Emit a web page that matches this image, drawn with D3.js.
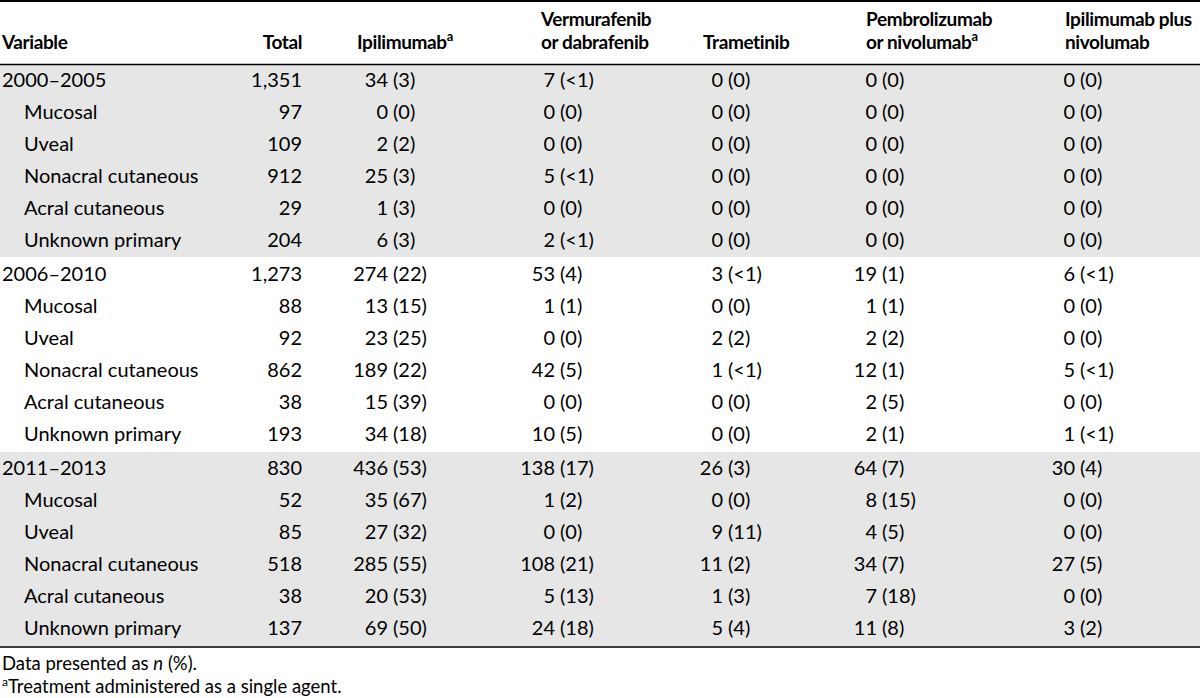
<!DOCTYPE html>
<html>
<head>
<meta charset="utf-8">
<script src="https://cdn.jsdelivr.net/npm/d3@7/dist/d3.min.js"></script>
<style>
  html, body { margin: 0; padding: 0; background: #fff; }
  svg { display: block; }
  text { font-family: Lato, "Open Sans", sans-serif; fill: #000; }
</style>
</head>
<body>
<svg id="chart" width="1200" height="698"></svg>
<script>
// ---------- data ----------
const periods = ["2000–2005", "2006–2010", "2011–2013"];
const subtypes = ["Mucosal", "Uveal", "Nonacral cutaneous", "Acral cutaneous", "Unknown primary"];
const totals = [1351, 97, 109, 912, 29, 204, 1273, 88, 92, 862, 38, 193, 830, 52, 85, 518, 38, 137];

const ipiN = [34, 0, 2, 25, 1, 6, 274, 13, 23, 189, 15, 34, 436, 35, 27, 285, 20, 69];
const ipiP = ["3", "0", "2", "3", "3", "3", "22", "15", "25", "22", "39", "18", "53", "67", "32", "55", "53", "50"];
const vemN = [7, 0, 0, 5, 0, 2, 53, 1, 0, 42, 0, 10, 138, 1, 0, 108, 5, 24];
const vemP = ["<1", "0", "0", "<1", "0", "<1", "4", "1", "0", "5", "0", "5", "17", "2", "0", "21", "13", "18"];
const traN = [0, 0, 0, 0, 0, 0, 3, 0, 2, 1, 0, 0, 26, 0, 9, 11, 1, 5];
const traP = ["0", "0", "0", "0", "0", "0", "<1", "0", "2", "<1", "0", "0", "3", "0", "11", "2", "3", "4"];
const pemN = [0, 0, 0, 0, 0, 0, 19, 1, 2, 12, 2, 2, 64, 8, 4, 34, 7, 11];
const pemP = ["0", "0", "0", "0", "0", "0", "1", "1", "2", "1", "5", "1", "7", "15", "5", "7", "18", "8"];
const ipnN = [0, 0, 0, 0, 0, 0, 6, 0, 0, 5, 0, 1, 30, 0, 0, 27, 0, 3];
const ipnP = ["0", "0", "0", "0", "0", "0", "<1", "0", "0", "<1", "0", "<1", "4", "0", "0", "5", "0", "2"];

const headers = [
  { lines: ["Variable"], sup: false },
  { lines: ["Total"], sup: false },
  { lines: ["Ipilimumab"], sup: true },
  { lines: ["Vermurafenib", "or dabrafenib"], sup: false },
  { lines: ["Trametinib"], sup: false },
  { lines: ["Pembrolizumab", "or nivolumab"], sup: true },
  { lines: ["Ipilimumab plus", "nivolumab"], sup: false }
];
const footnotes = ["Data presented as ", "Treatment administered as a single agent."];

// ---------- layout ----------
const W = 1200, H = 698;
const svg = d3.select("#chart");
const FS = 20;

// rows
const rows = [];
periods.forEach((p, g) => {
  rows.push({ label: p, indent: false, g, i: 0 });
  subtypes.forEach((s, k) => rows.push({ label: s, indent: true, g, i: k + 1 }));
});
rows.forEach((r, idx) => { r.idx = idx; });

const rowStep = 32, groupGap = 2;
const y = d3.scaleLinear().domain([0, 1]).range([80, 80 + rowStep]);
const rowY = r => y(r.idx) + r.g * groupGap;

// column anchors (right edge of count)
const cols = [
  { n: ipiN, p: ipiP, x: 388, hx: 357 },
  { n: vemN, p: vemP, x: 555, hx: 541 },
  { n: traN, p: traP, x: 723, hx: 703 },
  { n: pemN, p: pemP, x: 877, hx: 866 },
  { n: ipnN, p: ipnP, x: 1075, hx: 1065 }
];

// shading bands (groups 1 and 3)
const bandTop = g => rowY(rows[g * 6]) - 16;
const bandBot = g => rowY(rows[g * 6 + 5]) + 16;
svg.append("rect").attr("x", 0).attr("y", 65).attr("width", W)
  .attr("height", bandBot(0) + 1 - 65).attr("fill", "#e6e6e6");
svg.append("rect").attr("x", 0).attr("y", bandTop(2)).attr("width", W)
  .attr("height", 647 - bandTop(2)).attr("fill", "#e6e6e6");

// rules
svg.append("line").attr("x1", 0).attr("x2", W).attr("y1", 1).attr("y2", 1)
  .attr("stroke", "#000").attr("stroke-width", 2);
svg.append("line").attr("x1", 0).attr("x2", W).attr("y1", 64.5).attr("y2", 64.5)
  .attr("stroke", "#000").attr("stroke-width", 1.3);
svg.append("line").attr("x1", 0).attr("x2", W).attr("y1", 647).attr("y2", 647)
  .attr("stroke", "#000").attr("stroke-width", 1.3);

// headers
const hx = [2, 302].concat(cols.map(c => c.hx));
const hAnchor = ["start", "end", "start", "start", "start", "start", "start"];
headers.forEach((h, j) => {
  const baselines = h.lines.length === 2 ? [26, 49] : [49];
  h.lines.forEach((ln, k) => {
    const t = svg.append("text")
      .attr("x", hx[j]).attr("y", baselines[k])
      .attr("text-anchor", hAnchor[j])
      .attr("font-size", 19).attr("font-weight", "bold")
      .attr("letter-spacing", "-0.4px")
      .text(ln);
    if (h.sup && k === h.lines.length - 1) {
      t.append("tspan").attr("font-size", 13).attr("dy", -8).text("a");
    }
  });
});

// body
const fmt = d3.format(",");
const body = svg.append("g");
rows.forEach(r => {
  const yb = rowY(r) + 7;
  body.append("text").attr("x", r.indent ? 24 : 2).attr("y", yb)
    .attr("font-size", FS).text(r.label);
  body.append("text").attr("x", 302).attr("y", yb).attr("text-anchor", "end")
    .attr("font-size", FS).text(fmt(totals[r.idx]));
  cols.forEach(c => {
    body.append("text").attr("x", c.x).attr("y", yb).attr("text-anchor", "end")
      .attr("font-size", FS).text(c.n[r.idx]);
    body.append("text").attr("x", c.x + 5).attr("y", yb)
      .attr("font-size", FS).text("(" + c.p[r.idx] + ")");
  });
});

// footnotes
const f1 = svg.append("text").attr("x", 2).attr("y", 670).attr("font-size", 18.5).text(footnotes[0]);
f1.append("tspan").attr("font-style", "italic").text("n");
f1.append("tspan").text(" (%).");
const f2 = svg.append("text").attr("x", 2).attr("y", 693).attr("font-size", 18.5);
f2.append("tspan").attr("font-size", 12).attr("dy", -7).text("a");
f2.append("tspan").attr("dy", 7).text(footnotes[1]);
</script>
</body>
</html>
